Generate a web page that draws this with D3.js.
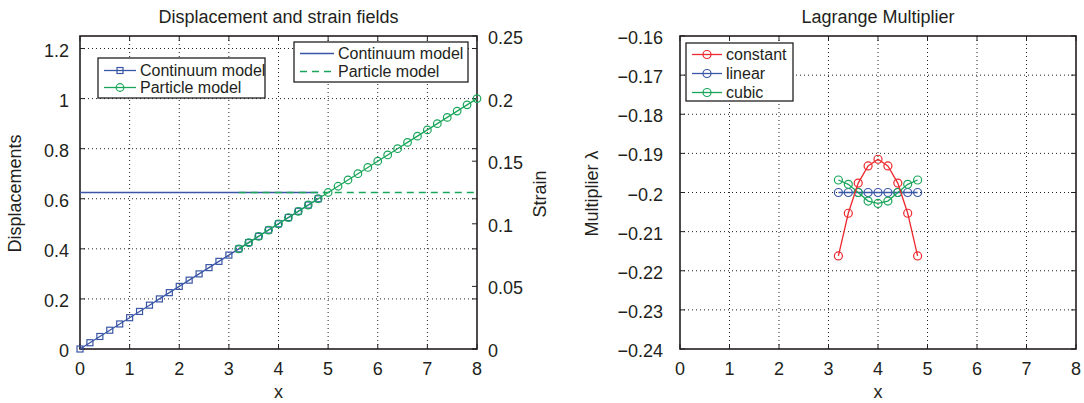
<!DOCTYPE html>
<html>
<head>
<meta charset="utf-8">
<script src="https://cdn.jsdelivr.net/npm/d3@7"></script>
<style>
  body { margin: 0; background: #fff; }
  text { font-family: "Liberation Sans", Arial, sans-serif; fill: #231f20; }
</style>
</head>
<body>
<svg id="chart" width="1084" height="403"></svg>
<script>
// left panel: displacement (left axis) and strain (right axis)
const continuumX = [0, 0.2, 0.4, 0.6, 0.8, 1, 1.2, 1.4, 1.6, 1.8, 2, 2.2, 2.4, 2.6, 2.8, 3, 3.2, 3.4, 3.6, 3.8, 4, 4.2, 4.4, 4.6, 4.8];
const continuumU = [0, 0.025, 0.05, 0.075, 0.1, 0.125, 0.15, 0.175, 0.2, 0.225, 0.25, 0.275, 0.3, 0.325, 0.35, 0.375, 0.4, 0.425, 0.45, 0.475, 0.5, 0.525, 0.55, 0.575, 0.6];
const particleX = [3.2, 3.4, 3.6, 3.8, 4, 4.2, 4.4, 4.6, 4.8, 5, 5.2, 5.4, 5.6, 5.8, 6, 6.2, 6.4, 6.6, 6.8, 7, 7.2, 7.4, 7.6, 7.8, 8];
const particleU = [0.4, 0.425, 0.45, 0.475, 0.5, 0.525, 0.55, 0.575, 0.6, 0.625, 0.65, 0.675, 0.7, 0.725, 0.75, 0.775, 0.8, 0.825, 0.85, 0.875, 0.9, 0.925, 0.95, 0.975, 1];
const continuumStrainX = [0, 4.8];
const continuumStrain = [0.125, 0.125];
const particleStrainX = [3.2, 8];
const particleStrain = [0.125, 0.125];

const dispTicks = [0, 0.2, 0.4, 0.6, 0.8, 1, 1.2];
const strainTicks = [0, 0.05, 0.1, 0.15, 0.2, 0.25];
const xTicks = [0, 1, 2, 3, 4, 5, 6, 7, 8];

// right panel: Lagrange multiplier
const lamX = [3.2, 3.4, 3.6, 3.8, 4, 4.2, 4.4, 4.6, 4.8];
const lamConstant = [-0.2162, -0.2053, -0.1976, -0.1932, -0.1915, -0.1932, -0.1976, -0.2053, -0.2162];
const lamLinear = [-0.2, -0.2, -0.2, -0.2, -0.2, -0.2, -0.2, -0.2, -0.2];
const lamCubic = [-0.1968, -0.1979, -0.2, -0.2022, -0.2028, -0.2022, -0.2, -0.1979, -0.1968];
const lamTicks = [-0.24, -0.23, -0.22, -0.21, -0.2, -0.19, -0.18, -0.17, -0.16];

const blue = "#3a56a6";
const green = "#1aa65a";
const red = "#ec2a2f";
const fontSize = 18;
const legendFont = 16;

const svg = d3.select("#chart");
svg.append("rect").attr("width", 1084).attr("height", 403).attr("fill", "#fff");

const fmtMinus = (v) => d3.format("")(v).replace("-", "\u2212");

// grid, box, inner ticks and text for one panel
function frame(x, y, yTicks, yFmt, opts) {
  const [x0, x1] = x.range();
  const [y0, y1] = y.range();
  const g = svg.append("g");
  // grid
  g.selectAll(".gx").data(xTicks.slice(1, -1)).enter().append("line")
    .attr("x1", (d) => x(d)).attr("x2", (d) => x(d))
    .attr("y1", y0).attr("y2", y1)
    .attr("stroke", "#222").attr("stroke-width", 1).attr("stroke-dasharray", "1,3");
  g.selectAll(".gy").data(yTicks.filter((d) => y(d) < y0 - 1 && y(d) > y1 + 1)).enter().append("line")
    .attr("x1", x0).attr("x2", x1)
    .attr("y1", (d) => y(d)).attr("y2", (d) => y(d))
    .attr("stroke", "#222").attr("stroke-width", 1).attr("stroke-dasharray", "1,3");
  // inner ticks
  const tl = 5;
  xTicks.forEach((d) => {
    g.append("line").attr("x1", x(d)).attr("x2", x(d)).attr("y1", y0).attr("y2", y0 - tl).attr("stroke", "#222");
    g.append("line").attr("x1", x(d)).attr("x2", x(d)).attr("y1", y1).attr("y2", y1 + tl).attr("stroke", "#222");
  });
  yTicks.forEach((d) => {
    g.append("line").attr("x1", x0).attr("x2", x0 + tl).attr("y1", y(d)).attr("y2", y(d)).attr("stroke", "#222");
    g.append("line").attr("x1", x1).attr("x2", x1 - tl).attr("y1", y(d)).attr("y2", y(d)).attr("stroke", "#222");
  });
  // box
  g.append("rect").attr("x", x0).attr("y", y1).attr("width", x1 - x0).attr("height", y0 - y1)
    .attr("fill", "none").attr("stroke", "#231f20").attr("stroke-width", 1.6);
  // labels
  g.selectAll(".xl").data(xTicks).enter().append("text")
    .attr("x", (d) => x(d)).attr("y", y0 + 26)
    .attr("text-anchor", "middle").style("font-size", fontSize + "px").text((d) => d);
  g.selectAll(".yl").data(yTicks).enter().append("text")
    .attr("x", x0 - opts.gap).attr("y", (d) => y(d) + 8)
    .attr("text-anchor", "end").style("font-size", fontSize + "px").text(yFmt);
  g.append("text").attr("x", (x0 + x1) / 2).attr("y", 398)
    .attr("text-anchor", "middle").style("font-size", fontSize + "px").text("x");
  g.append("text").attr("x", (x0 + x1) / 2).attr("y", 23)
    .attr("text-anchor", "middle").style("font-size", fontSize + "px").text(opts.title);
  g.append("text").attr("transform", "translate(" + opts.ylabX + "," + ((y0 + y1) / 2 + 1) + ") rotate(-90)")
    .attr("text-anchor", "middle").style("font-size", fontSize + "px").text(opts.ylab);
}

let markerR = 3.8;
function series(x, y, xs, ys, color, marker, dash) {
  const pts = xs.map((d, i) => [x(d), y(ys[i])]);
  svg.append("path").attr("d", d3.line()(pts)).attr("fill", "none")
    .attr("stroke", color).attr("stroke-width", 1.3)
    .attr("stroke-dasharray", dash || null);
  if (marker === "square") {
    svg.selectAll(null).data(pts).enter().append("rect")
      .attr("x", (d) => d[0] - 3).attr("y", (d) => d[1] - 3)
      .attr("width", 6).attr("height", 6)
      .attr("fill", "none").attr("stroke", color).attr("stroke-width", 1.2);
  } else if (marker === "circle") {
    svg.selectAll(null).data(pts).enter().append("circle")
      .attr("cx", (d) => d[0]).attr("cy", (d) => d[1]).attr("r", markerR)
      .attr("fill", "none").attr("stroke", color).attr("stroke-width", 1.2);
  }
}

function legend(x, y, w, h, items) {
  const g = svg.append("g");
  g.append("rect").attr("x", x).attr("y", y).attr("width", w).attr("height", h)
    .attr("fill", "#fff").attr("stroke", "#231f20").attr("stroke-width", 1.3);
  items.forEach((it, i) => {
    const cy = y + it.dy + i * it.step;
    g.append("line").attr("x1", x + 6).attr("x2", x + 6 + it.len).attr("y1", cy).attr("y2", cy)
      .attr("stroke", it.color).attr("stroke-width", 1.3).attr("stroke-dasharray", it.dash || null);
    const mx = x + 6 + it.len / 2;
    if (it.marker === "square") {
      g.append("rect").attr("x", mx - 3).attr("y", cy - 3).attr("width", 6).attr("height", 6)
        .attr("fill", "none").attr("stroke", it.color).attr("stroke-width", 1.2);
    } else if (it.marker === "circle") {
      g.append("circle").attr("cx", mx).attr("cy", cy).attr("r", it.r || 3.8)
        .attr("fill", "none").attr("stroke", it.color).attr("stroke-width", 1.2);
    }
    g.append("text").attr("x", x + 6 + it.len + 4).attr("y", cy + 5.5)
      .style("font-size", legendFont + "px").text(it.label);
  });
}

// ---- left panel
const xL = d3.scaleLinear().domain([0, 8]).range([80, 477]);
const yDisp = d3.scaleLinear().domain([0, 1.25]).range([349, 36]);
const yStrain = d3.scaleLinear().domain([0, 0.25]).range([349, 36]);

frame(xL, yDisp, dispTicks, (d) => d, { gap: 11, title: "Displacement and strain fields", ylab: "Displacements", ylabX: 21 });
// right strain axis
strainTicks.forEach((d) => {
  svg.append("line").attr("x1", 477).attr("x2", 472).attr("y1", yStrain(d)).attr("y2", yStrain(d)).attr("stroke", "#222");
});
svg.selectAll(".sl").data(strainTicks).enter().append("text")
  .attr("x", 488).attr("y", (d) => yStrain(d) + 8)
  .style("font-size", fontSize + "px").text((d) => d);
svg.append("text").attr("transform", "translate(" + 546 + "," + 194 + ") rotate(-90)")
  .attr("text-anchor", "middle").style("font-size", fontSize + "px").text("Strain");

series(xL, yStrain, continuumStrainX, continuumStrain, blue, null);
series(xL, yStrain, particleStrainX, particleStrain, green, null, "7,5");
series(xL, yDisp, continuumX, continuumU, blue, "square");
series(xL, yDisp, particleX, particleU, green, "circle");

legend(98, 58, 167, 40, [
  { label: "Continuum model", color: blue, marker: "square", len: 32, dy: 12.5, step: 17 },
  { label: "Particle model", color: green, marker: "circle", len: 32, dy: 12.5, step: 17 }
]);
legend(294, 42, 174, 40, [
  { label: "Continuum model", color: blue, len: 34, dy: 11.5, step: 18 },
  { label: "Particle model", color: green, len: 34, dy: 11.5, step: 18, dash: "7,5" }
]);

// ---- right panel
const xR = d3.scaleLinear().domain([0, 8]).range([680, 1076]);
const yLam = d3.scaleLinear().domain([-0.24, -0.16]).range([349, 36]);

frame(xR, yLam, lamTicks, (d) => fmtMinus(d), { gap: 17, title: "Lagrange Multiplier", ylab: "Multiplier \u03bb", ylabX: 598 });

markerR = 4;
series(xR, yLam, lamX, lamLinear, blue, "circle");
series(xR, yLam, lamX, lamCubic, green, "circle");
series(xR, yLam, lamX, lamConstant, red, "circle");

legend(686, 43, 107, 58, [
  { label: "constant", color: red, marker: "circle", len: 30, dy: 11.5, step: 19, r: 4 },
  { label: "linear", color: blue, marker: "circle", len: 30, dy: 11.5, step: 19, r: 4 },
  { label: "cubic", color: green, marker: "circle", len: 30, dy: 11.5, step: 19, r: 4 }
]);
</script>
</body>
</html>
